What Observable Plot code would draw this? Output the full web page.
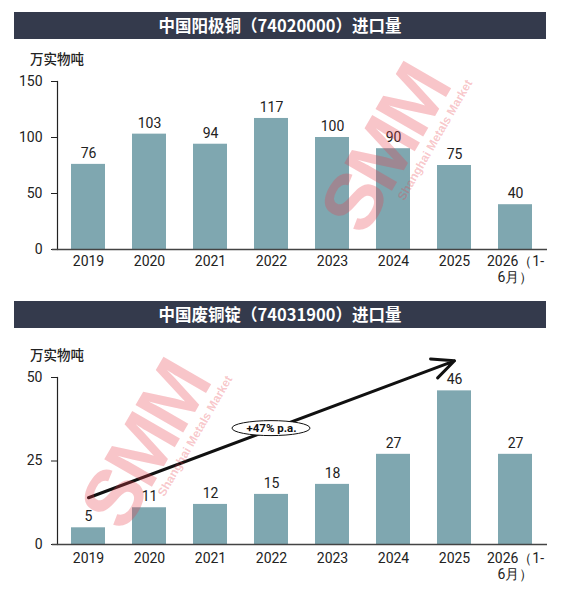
<!DOCTYPE html>
<html>
<head>
<meta charset="utf-8">
<script src="https://cdn.jsdelivr.net/npm/d3@7"></script>
<script src="https://cdn.jsdelivr.net/npm/@observablehq/plot@0.6"></script>
<style>
  html, body { margin: 0; padding: 0; background: #fff; }
  #wrap { position: relative; width: 561px; height: 598px; overflow: hidden; background: #fff; font-family: Roboto, "Noto Sans CJK SC", sans-serif; }
  .hdr { position: absolute; left: 14px; width: 532px; height: 27px; line-height: 27px; background: #343a4c; color: #fff; text-align: center; font-family: "Noto Sans CJK SC", sans-serif; font-weight: 700; font-size: 16.5px; }
  .unit { position: absolute; left: 30px; height: 18px; line-height: 18px; font-family: "Noto Sans CJK SC", sans-serif; font-weight: 500; font-size: 13.5px; color: #222; }
  .chart { position: absolute; left: 0; }
  .wm { position: absolute; width: 0; height: 0; pointer-events: none; }
  .wm > div { position: absolute; left: 0; top: 0; transform: translate(-50%, -50%) rotate(-60deg); color: rgba(232, 64, 76, 0.30); text-align: center; white-space: nowrap; }
  .wm .big { font-family: "Liberation Sans", sans-serif; font-weight: 900; font-size: 80px; line-height: 66px; letter-spacing: -4px; }
  .wm .small { font-family: "Liberation Sans", sans-serif; font-weight: 700; font-size: 12px; line-height: 12px; text-align: right; margin-right: -14px; }
</style>
</head>
<body>
<div id="wrap">
  <div class="hdr" style="top:12px">中国阳极铜（74020000）进口量</div>
  <div id="c1" class="chart" style="top:45px"></div>
  <div class="unit" style="top:49px">万实物吨</div>
  <div class="hdr" style="top:301px">中国废铜锭（74031900）进口量</div>
  <div id="c2" class="chart" style="top:335px"></div>
  <div class="unit" style="top:345px">万实物吨</div>
  <div class="wm" style="left:390px;top:152px"><div><div class="big">SMM</div><div class="small">Shanghai Metals Market</div></div></div>
  <div class="wm" style="left:150px;top:448px"><div><div class="big">SMM</div><div class="small">Shanghai Metals Market</div></div></div>
</div>
<script>
// ---- data ----
const years = ["2019", "2020", "2021", "2022", "2023", "2024", "2025", "2026（1-\n6月）"];
const anodeImports = [76, 103, 94, 117, 100, 90, 75, 40];      // 中国阳极铜进口量, 万实物吨
const scrapImports = [5, 11, 12, 15, 18, 27, 46, 27];          // 中国废铜锭进口量, 万实物吨
const anodeTicks = [0, 50, 100, 150];
const scrapTicks = [0, 25, 50];
// trend arrow (2019 -> 2025) and growth label
const trendYears = ["2019", "2025"];
const trendValues = [14, 55];
const growthText = "+47% p.a.";
const growthYear = "2022";
const growthValue = 34.7;

const barColor = "#7fa7b0";
const ink = "#222";

function makeChart(values, domainMax, ticks, opts) {
  const rows = years.map((y, i) => ({year: y, value: values[i]}));
  const marks = [
    Plot.barY(rows, {x: "year", y: "value", fill: barColor}),
    Plot.text(rows, {x: "year", y: "value", text: d => String(d.value), dy: -11, fontSize: 14, fill: ink}),
    Plot.axisY({ticks, tickSize: 6, tickPadding: 9, label: null, fontSize: 14, stroke: ink, fill: ink}),
    Plot.axisX({tickSize: 0, tickPadding: opts.xPad, label: null, fontSize: 14, lineHeight: 1.15, fill: ink}),
    Plot.frame({anchor: "left", stroke: ink, strokeWidth: 1.2}),
    Plot.ruleY([0], {stroke: "#444", strokeWidth: 1.4, insetLeft: -5, insetRight: -1})
  ];
  if (opts.extra) marks.push(...opts.extra);
  return Plot.plot({
    width: 561,
    height: opts.height,
    marginTop: opts.marginTop,
    marginBottom: opts.marginBottom,
    marginLeft: 57,
    marginRight: 15,
    style: {fontFamily: "Roboto, sans-serif", fontSize: "14px", color: ink, background: "transparent", overflow: "visible"},
    x: {domain: years, paddingInner: 0.44, paddingOuter: 0.22, label: null, axis: null},
    y: {domain: [0, domainMax], label: null, axis: null},
    marks
  });
}

const chart1 = makeChart(anodeImports, 150, anodeTicks, {height: 250, marginTop: 36, marginBottom: 46, xPad: 5});
document.getElementById("c1").appendChild(chart1);

const trend = [{x1: trendYears[0], y1: trendValues[0], x2: trendYears[1], y2: trendValues[1]}];
const growth = [{year: growthYear, value: growthValue, label: growthText}];
const chart2 = makeChart(scrapImports, 50, scrapTicks, {
  height: 263, marginTop: 42, marginBottom: 54, xPad: 7,
  extra: [
    Plot.arrow(trend, {x1: "x1", y1: "y1", x2: "x2", y2: "y2", stroke: "#111", strokeWidth: 3, headLength: 12, headAngle: 50}),
    Plot.text(growth, {x: "year", y: "value", text: "label", fontSize: 11.5, fontWeight: 700, fill: "#111"})
  ]
});
document.getElementById("c2").appendChild(chart2);

// ellipse behind the growth label, positioned with the chart's own scales
(function () {
  const xs = chart2.scale("x"), ys = chart2.scale("y");
  const cx = xs.apply(growthYear) + (xs.bandwidth || 0) / 2;
  const cy = ys.apply(growthValue);
  const el = document.createElementNS("http://www.w3.org/2000/svg", "ellipse");
  el.setAttribute("cx", cx); el.setAttribute("cy", cy);
  el.setAttribute("rx", 39); el.setAttribute("ry", 7.5);
  el.setAttribute("fill", "#fff"); el.setAttribute("stroke", "#111"); el.setAttribute("stroke-width", 1);
  const label = Array.from(chart2.querySelectorAll("text")).find(t => t.textContent === growthText);
  let node = label;
  while (node && node.parentNode !== chart2) node = node.parentNode;
  if (node) chart2.insertBefore(el, node); else chart2.appendChild(el);
})();
</script>
</body>
</html>
